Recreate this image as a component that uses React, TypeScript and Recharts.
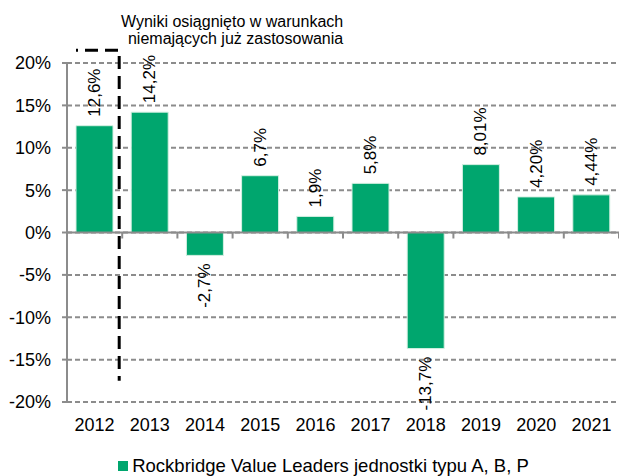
import {
  Bar,
  BarChart,
  CartesianGrid,
  LabelList,
  Legend,
  ReferenceArea,
  ReferenceLine,
  XAxis,
  YAxis,
} from "recharts";

const YEARS = ["2012", "2013", "2014", "2015", "2016", "2017", "2018", "2019", "2020", "2021"];
const RETURNS = [12.6, 14.2, -2.7, 6.7, 1.9, 5.8, -13.7, 8.01, 4.2, 4.44];
const RETURN_LABELS = ["12,6%", "14,2%", "-2,7%", "6,7%", "1,9%", "5,8%", "-13,7%", "8,01%", "4,20%", "4,44%"];
const Y_TICKS = [-20, -15, -10, -5, 0, 5, 10, 15, 20];
const NOTE_LINES = ["Wyniki osiągnięto w warunkach", "niemających już zastosowania"];
const SERIES_NAME = "Rockbridge Value Leaders jednostki typu A, B, P";

const GREEN = "#00A66E";
const GRID = "#8c8c8c";

const data = YEARS.map((year, i) => ({ year, value: RETURNS[i], label: RETURN_LABELS[i] }));

function BarValueLabel(props: any) {
  const vb = props.viewBox ?? props;
  const x = vb.x ?? props.x;
  const y = vb.y ?? props.y;
  const width = vb.width ?? props.width;
  const height = vb.height ?? props.height;
  const v = RETURNS[props.index];
  const cx = x + width / 2;
  const top = Math.min(y, y + height);
  const bottom = Math.max(y, y + height);
  const py = v >= 0 ? top - 9 : bottom + 8;
  return (
    <text
      x={cx}
      y={py}
      transform={`rotate(-90 ${cx} ${py})`}
      textAnchor={v >= 0 ? "start" : "end"}
      dominantBaseline="central"
      fontSize={17}
      fill="#000"
    >
      {props.value}
    </text>
  );
}

// zero line with the small tick marks between categories
function ZeroLine(props: any) {
  const { x1, x2, y1 } = props;
  const step = (x2 - x1) / YEARS.length;
  return (
    <g>
      <line x1={x1} x2={x2} y1={y1} y2={y1} stroke={GRID} strokeWidth={2} />
      {YEARS.map((_, i) => (
        <line
          key={i}
          x1={x1 + step * (i + 1)}
          x2={x1 + step * (i + 1)}
          y1={y1}
          y2={y1 + 6}
          stroke={GRID}
          strokeWidth={2}
        />
      ))}
    </g>
  );
}

// dashed bracket around 2012 and the note above it
function NoteBox(props: any) {
  const { x, y, width, height } = props;
  const right = x + width - 3;
  return (
    <g>
      <path
        d={`M${x + 9},${y} L${right},${y} L${right},${y + height}`}
        fill="none"
        stroke="#000"
        strokeWidth={3}
        strokeDasharray="13 7"
        strokeDashoffset={11}
      />
      <text x={right + 224} y={y - 23.5} textAnchor="end" fontSize={16} fill="#000">
        {NOTE_LINES[0]}
      </text>
      <text x={right + 224} y={y - 6.5} textAnchor="end" fontSize={16} fill="#000">
        {NOTE_LINES[1]}
      </text>
    </g>
  );
}

function SeriesLegend({ payload }: any) {
  return (
    <div
      style={{
        height: 44,
        paddingTop: 24,
        paddingLeft: 28,
        boxSizing: "border-box",
        display: "flex",
        justifyContent: "center",
        alignItems: "flex-start",
      }}
    >
      {(payload ?? []).map((p: any) => (
        <span key={p.value} style={{ display: "inline-flex", alignItems: "center", lineHeight: "20px" }}>
          <span style={{ width: 10, height: 10, background: GREEN, marginRight: 4, display: "inline-block" }} />
          <span style={{ color: "#000", fontSize: 18.5 }}>{p.value}</span>
        </span>
      ))}
    </div>
  );
}

export default function App() {
  return (
    <div style={{ position: "absolute", left: 0, top: 0, fontFamily: "'Liberation Sans', Arial, sans-serif" }}>
      <BarChart width={619} height={476} data={data} margin={{ top: 63, right: 0, bottom: 0, left: 0 }} barSize={37}>
        <CartesianGrid vertical={false} stroke={GRID} strokeWidth={2} strokeDasharray="5 3" />
        <XAxis
          dataKey="year"
          axisLine={false}
          tickLine={false}
          tickSize={0}
          tickMargin={16}
          height={30}
          interval={0}
          tick={{ fill: "#000", fontSize: 18 }}
        />
        <YAxis
          domain={[-20, 20]}
          ticks={Y_TICKS}
          width={67}
          tickFormatter={(v: number) => `${v}%`}
          axisLine={{ stroke: GRID, strokeWidth: 2 }}
          tickLine={{ stroke: GRID, strokeWidth: 2 }}
          tickSize={5}
          tickMargin={11}
          tick={{ fill: "#000", fontSize: 18 }}
        />
        <Legend verticalAlign="bottom" height={44} content={<SeriesLegend />} />
        <Bar dataKey="value" name={SERIES_NAME} fill={GREEN} stroke="#d6f0e3" strokeWidth={1} isAnimationActive={false}>
          <LabelList dataKey="label" content={<BarValueLabel />} />
        </Bar>
        <ReferenceLine y={0} shape={<ZeroLine />} ifOverflow="visible" />
        <ReferenceArea x1="2012" x2="2012" y1={-17.5} y2={21.5} ifOverflow="visible" shape={<NoteBox />} />
      </BarChart>
    </div>
  );
}
